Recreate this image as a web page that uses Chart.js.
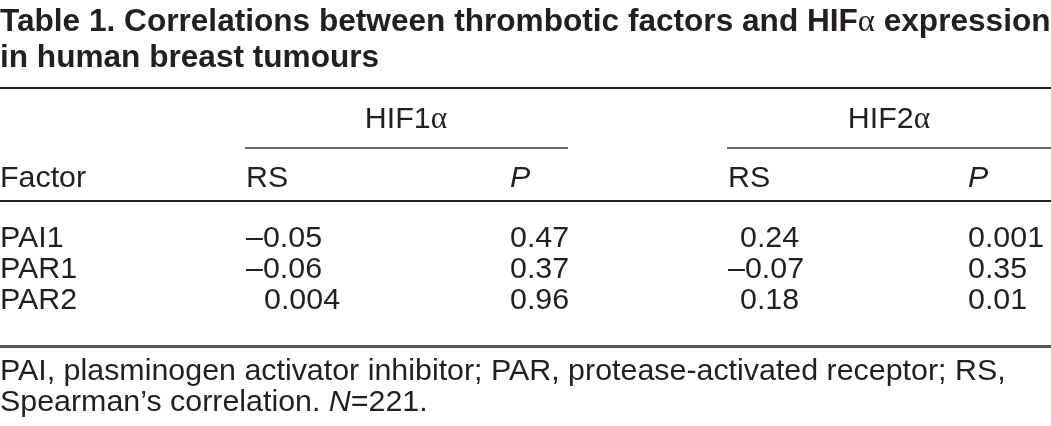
<!DOCTYPE html>
<html><head><meta charset="utf-8">
<script src="https://cdn.jsdelivr.net/npm/chart.js@4.4.1/dist/chart.umd.min.js"></script>
<style>html,body{margin:0;padding:0;background:#fff;overflow:hidden}#wrap{width:1051px;height:426px}</style>
</head><body><div id="wrap"><canvas id="c" width="1051" height="426"></canvas></div>
<script>
// ---- data ----
const titleLines = ["Table 1. Correlations between thrombotic factors and HIFα expression", "in human breast tumours"];
const groupLabels = ["HIF1α", "HIF2α"];
const subLabels = ["RS", "_P_"];
const rowHeader = "Factor";
const factors = ["PAI1", "PAR1", "PAR2"];
const hif1RS = [-0.05, -0.06, 0.004];
const hif1P = [0.47, 0.37, 0.96];
const hif2RS = [0.24, -0.07, 0.18];
const hif2P = [0.001, 0.35, 0.01];
const footnotes = ["PAI, plasminogen activator inhibitor; PAR, protease-activated receptor; RS,", "Spearman’s correlation. _N_=221."];

// ---- layout (style only) ----
const W = 1051, H = 426;
const INK = '#231f20';
const SANS = '"Liberation Sans", Arial, Helvetica, sans-serif';
const SERIF = '"Liberation Serif", "Times New Roman", serif';
const titleSize = 31.6, bodySize = 30.4;
const colX = [0, 246, 510, 728, 968];
const posIndent = [0, 18, 0, 12, 0];
const groupCenters = [406, 889];
const groupRules = [[245, 568], [727, 1051]];
const yTitle = [31, 67];
const yTopRule = 88, yGroup = 128, ySubRule = 148, ySub = 187, yHeadRule = 201;
const yRows = [247, 278, 309];
const yBottomRule = 346;
const yFoot = [380, 411];

function fmt(v) { return String(v).replace('-', '\u2013'); }

const columns = [factors, hif1RS.map(fmt), hif1P.map(fmt), hif2RS.map(fmt), hif2P.map(fmt)];
const rawCols = [null, hif1RS, hif1P, hif2RS, hif2P];

const cells = [];
titleLines.forEach((t, i) => cells.push({ x: 0, y: yTitle[i], text: t, size: titleSize, bold: true, align: 'left' }));
groupLabels.forEach((t, i) => cells.push({ x: groupCenters[i], y: yGroup, text: t, size: bodySize, align: 'center' }));
cells.push({ x: colX[0], y: ySub, text: rowHeader, size: bodySize, align: 'left' });
[1, 2, 3, 4].forEach((c, i) => cells.push({ x: colX[c], y: ySub, text: subLabels[i % 2], size: bodySize, align: 'left' }));
columns.forEach((col, c) => col.forEach((t, r) => {
  const raw = rawCols[c];
  const ind = (raw && raw[r] >= 0) ? posIndent[c] : 0;
  cells.push({ x: colX[c] + ind, y: yRows[r], text: t, size: bodySize, align: 'left' });
}));
footnotes.forEach((t, i) => cells.push({ x: 0, y: yFoot[i], text: t, size: bodySize, align: 'left' }));

const rules = [
  { x0: 0, x1: W, y: yTopRule, w: 2, c: '#1e1e1e' },
  { x0: groupRules[0][0], x1: groupRules[0][1], y: ySubRule, w: 2, c: '#6a6a6a' },
  { x0: groupRules[1][0], x1: groupRules[1][1], y: ySubRule, w: 2, c: '#6a6a6a' },
  { x0: 0, x1: W, y: yHeadRule, w: 2, c: '#1e1e1e' },
  { x0: 0, x1: W, y: yBottomRule, w: 3, c: '#5a5a5a' }
];

function segments(text, size, bold) {
  const segs = [];
  let italic = false, buf = '';
  const base = (it) => (it ? 'italic ' : '') + (bold ? 'bold ' : '') + size + 'px ' + SANS;
  for (const ch of text) {
    if (ch === '_') { if (buf) segs.push({ t: buf, f: base(italic) }); buf = ''; italic = !italic; continue; }
    if (ch === 'α') { if (buf) segs.push({ t: buf, f: base(italic) }); buf = ''; segs.push({ t: 'α', f: (size + 1) + 'px ' + SERIF }); continue; }
    buf += ch;
  }
  if (buf) segs.push({ t: buf, f: base(italic) });
  return segs;
}

const tablePlugin = {
  id: 'tableDraw',
  afterDatasetsDraw(chart) {
    const ctx = chart.ctx;
    const xs = chart.scales.x, ys = chart.scales.y;
    ctx.save();
    rules.forEach(r => {
      const py = Math.round(ys.getPixelForValue(r.y));
      ctx.fillStyle = r.c;
      const x0 = xs.getPixelForValue(r.x0), x1 = xs.getPixelForValue(r.x1);
      ctx.fillRect(x0, py - Math.floor(r.w / 2), x1 - x0, r.w);
    });
    const meta = chart.getDatasetMeta(0);
    ctx.fillStyle = INK;
    ctx.textBaseline = 'alphabetic';
    ctx.textAlign = 'left';
    meta.data.forEach((el, i) => {
      const cell = cells[i];
      const segs = segments(cell.text, cell.size, cell.bold);
      let total = 0;
      segs.forEach(s => { ctx.font = s.f; s.w = ctx.measureText(s.t).width; total += s.w; });
      let x = el.x - (cell.align === 'center' ? total / 2 : 0);
      segs.forEach(s => { ctx.font = s.f; ctx.fillText(s.t, x, el.y); x += s.w; });
    });
    ctx.restore();
  }
};

new Chart(document.getElementById('c'), {
  type: 'scatter',
  data: { datasets: [{ data: cells.map(c => ({ x: c.x, y: c.y })), pointRadius: 0, pointHoverRadius: 0 }] },
  options: {
    responsive: false, animation: false, devicePixelRatio: 1,
    layout: { padding: 0 },
    events: [],
    plugins: { legend: { display: false }, tooltip: { enabled: false }, title: { display: false } },
    scales: {
      x: { type: 'linear', min: 0, max: W, display: false },
      y: { type: 'linear', min: 0, max: H, reverse: true, display: false }
    }
  },
  plugins: [tablePlugin]
});
</script></body></html>
